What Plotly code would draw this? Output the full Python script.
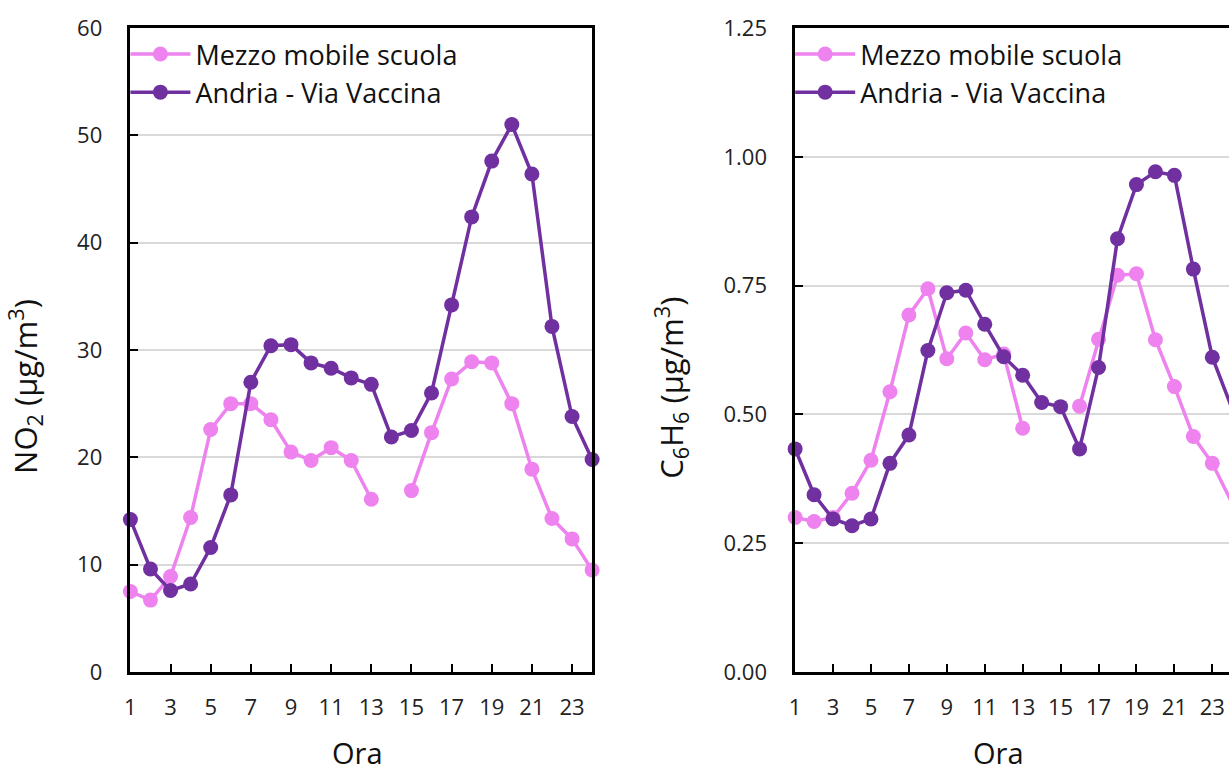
import plotly.graph_objects as go

hours = list(range(1, 25))

no2_scuola = [7.5, 6.7, 8.9, 14.4, 22.6, 25.0, 25.0, 23.5, 20.5, 19.7, 20.9, 19.7,
              16.1, None, 16.9, 22.3, 27.3, 28.9, 28.8, 25.0, 18.9, 14.3, 12.4, 9.5]
no2_andria = [14.2, 9.6, 7.6, 8.2, 11.6, 16.5, 27.0, 30.4, 30.5, 28.8, 28.3, 27.4,
              26.8, 21.9, 22.5, 26.0, 34.2, 42.4, 47.6, 51.0, 46.4, 32.2, 23.8, 19.8]

c6h6_scuola = [0.300, 0.292, 0.300, 0.347, 0.411, 0.544, 0.693, 0.744, 0.608, 0.658, 0.606, 0.617,
               0.473, None, None, 0.516, 0.646, 0.770, 0.773, 0.645, 0.554, 0.457, 0.405, 0.331]
c6h6_andria = [0.433, 0.344, 0.297, 0.284, 0.297, 0.405, 0.460, 0.624, 0.736, 0.741, 0.675, 0.612,
               0.576, 0.523, 0.515, 0.433, 0.591, 0.841, 0.946, 0.971, 0.964, 0.782, 0.611, 0.515]

series_names = ["Mezzo mobile scuola", "Andria - Via Vaccina"]
colors = ["#EE82EE", "#7030A0"]
x_ticks = list(range(1, 24, 2))

W, H = 1229, 772
FONT = "Open Sans"

fig = go.Figure()

for name, vals, col in zip(series_names, [no2_scuola, no2_andria], colors):
    fig.add_trace(go.Scatter(x=hours, y=vals, name=name, mode="lines+markers",
                             line=dict(color=col, width=3.5),
                             marker=dict(color=col, size=15),
                             cliponaxis=False, xaxis="x", yaxis="y", legend="legend"))
for name, vals, col in zip(series_names, [c6h6_scuola, c6h6_andria], colors):
    fig.add_trace(go.Scatter(x=hours, y=vals, name=name, mode="lines+markers",
                             line=dict(color=col, width=3.5),
                             marker=dict(color=col, size=15),
                             cliponaxis=False, xaxis="x2", yaxis="y2", legend="legend2"))

axis_common = dict(showline=True, linecolor="black", linewidth=2.5,
                   ticks="inside", ticklen=8, tickwidth=2, tickcolor="black",
                   tickfont=dict(family=FONT, size=22, color="#222"),
                   zeroline=False)

plot_top, plot_bot = 28, 672
ph = plot_bot - plot_top

fig.update_layout(
    width=W, height=H,
    margin=dict(l=0, r=0, t=plot_top, b=H - plot_bot),
    paper_bgcolor="white", plot_bgcolor="white",
    font=dict(family=FONT, color="#222"),
    xaxis=dict(domain=[125 / W, 589 / W], range=[1, 24], tickvals=x_ticks,
               mirror=True, showgrid=False, ticklabelstandoff=14, **axis_common),
    yaxis=dict(range=[0, 60], dtick=10, mirror=True, showgrid=True,
               gridcolor="#D9D9D9", gridwidth=2, ticklabelstandoff=21, **axis_common),
    xaxis2=dict(domain=[793 / W, 1.0], range=[1, 23.88], tickvals=x_ticks,
                mirror=True, showgrid=False, ticklabelstandoff=14, anchor="y2", **axis_common),
    yaxis2=dict(range=[0, 1.25], dtick=0.25, tickformat=".2f", mirror=False, showgrid=True,
                gridcolor="#D9D9D9", gridwidth=2, ticklabelstandoff=21, anchor="x2", **axis_common),
    legend=dict(x=120 / W, y=1 - 2 / ph, xanchor="left", yanchor="top",
                bgcolor="rgba(0,0,0,0)", font=dict(family=FONT, size=27, color="#111"),
                itemwidth=60, tracegroupgap=0),
    legend2=dict(x=788 / W, y=1 - 2 / ph, xanchor="left", yanchor="top",
                 bgcolor="rgba(0,0,0,0)", font=dict(family=FONT, size=27, color="#111"),
                 itemwidth=60, tracegroupgap=0),
    showlegend=True,
)

def py(p):
    return (plot_bot - p) / ph

fig.add_annotation(text="Ora", x=353 / W, y=py(752), xref="paper", yref="paper",
                   showarrow=False, font=dict(family=FONT, size=29, color="#111"),
                   xanchor="center", yanchor="middle")
fig.add_annotation(text="Ora", x=997 / W, y=py(752), xref="paper", yref="paper",
                   showarrow=False, font=dict(family=FONT, size=29, color="#111"),
                   xanchor="center", yanchor="middle")
fig.add_annotation(text="NO<sub>2</sub> (µg/m<sup>3</sup>)", x=19 / W, y=py(386),
                   xref="paper", yref="paper", showarrow=False, textangle=-90,
                   font=dict(family=FONT, size=31, color="#111"),
                   xanchor="center", yanchor="middle")
fig.add_annotation(text="C<sub>6</sub>H<sub>6</sub> (µg/m<sup>3</sup>)", x=669 / W, y=py(388),
                   xref="paper", yref="paper", showarrow=False, textangle=-90,
                   font=dict(family=FONT, size=31, color="#111"),
                   xanchor="center", yanchor="middle")

fig.write_html("out.html", config={"displayModeBar": False},
               post_script="document.body.style.margin='0';document.body.style.overflow='hidden';")
